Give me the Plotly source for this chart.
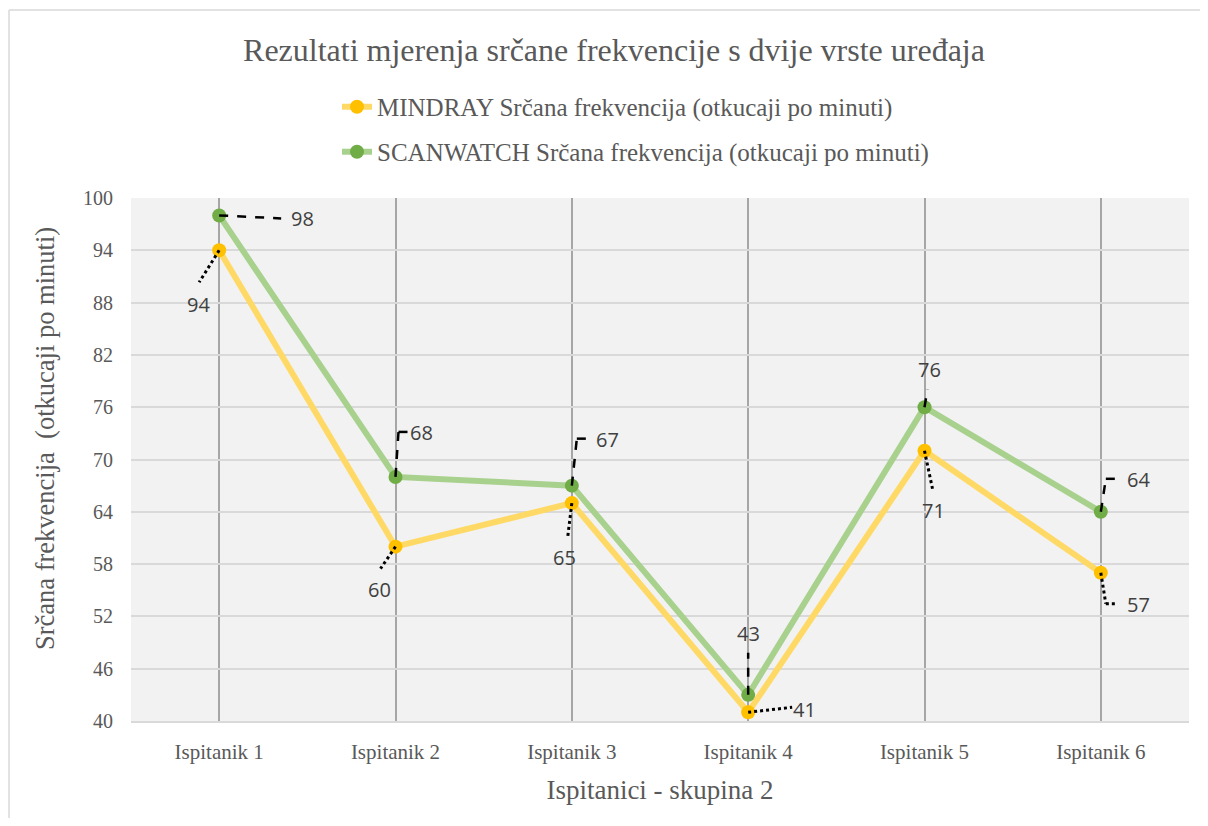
import plotly.graph_objects as go

categories = ["Ispitanik 1", "Ispitanik 2", "Ispitanik 3", "Ispitanik 4", "Ispitanik 5", "Ispitanik 6"]
mindray = [94, 60, 65, 41, 71, 57]
scanwatch = [98, 68, 67, 43, 76, 64]
y_ticks = [40, 46, 52, 58, 64, 70, 76, 82, 88, 94, 100]

name_m = "MINDRAY Srčana frekvencija (otkucaji po minuti)"
name_s = "SCANWATCH Srčana frekvencija (otkucaji po minuti)"

SERIF = "Liberation Serif"
SANS = "Open Sans"
GREY = "#595959"

fig = go.Figure()
fig.add_trace(go.Scatter(
    x=categories, y=mindray, name=name_m, mode="lines+markers",
    line=dict(color="#FFD966", width=6),
    marker=dict(color="#FFC000", size=14),
    legend="legend", showlegend=True,
))
fig.add_trace(go.Scatter(
    x=categories, y=scanwatch, name=name_s, mode="lines+markers",
    line=dict(color="#A9D18E", width=6),
    marker=dict(color="#70AD47", size=14),
    legend="legend2", showlegend=True,
))

# label offsets (pixels) and leader-line polylines (pixels, y up) per point
m_label_off = [(-21, -54), (-16, -43), (-7, -54), (56, 3), (9, -60), (38, -32)]
s_label_off = [(83, -3), (26, 44), (36, 46), (0, 61), (5, 38), (38, 32)]
m_leader = [
    [(0, 0), (-20, -32)],
    [(0, 0), (-15, -22)],
    [(0, 0), (-4, -33)],
    [(0, 0), (44, 5)],
    [(0, 0), (8, -38)],
    [(0, 0), (5, -31), (17, -31)],
]
s_leader = [
    [(0, 0), (62, -3)],
    [(0, 0), (3, 45), (15, 45)],
    [(0, 0), (5, 47), (17, 47)],
    [(0, 0), (0, 42)],
    [(0, 0), (3, 18)],
    [(0, 0), (5, 33), (17, 33)],
]

def add_labels(values, offsets, leaders, dash, width):
    for cat, v, (dx, dy), pts in zip(categories, values, offsets, leaders):
        for (x0, y0), (x1, y1) in zip(pts[:-1], pts[1:]):
            fig.add_shape(
                type="line", xref="x", yref="y",
                xsizemode="pixel", ysizemode="pixel",
                xanchor=cat, yanchor=v,
                x0=x0, y0=y0, x1=x1, y1=y1,
                line=dict(color="black", width=width, dash=dash),
            )
        fig.add_annotation(
            x=cat, y=v, text=str(v), showarrow=False,
            xshift=dx, yshift=dy,
            font=dict(family=SANS, size=20, color="#404040"),
        )

add_labels(scanwatch, s_label_off, s_leader, "dash", 2.5)
add_labels(mindray, m_label_off, m_leader, "dot", 3)

# y-axis title placed as annotation (offset from the axis centre like the original)
fig.add_annotation(
    text="Srčana frekvencija  (otkucaji po minuti)",
    xref="paper", yref="paper", x=-0.0813, y=0.541,
    xanchor="center", yanchor="middle", textangle=-90, showarrow=False,
    font=dict(family=SERIF, size=26.5, color=GREY),
)

# outer chart border (left and top edges only are visible)
fig.add_shape(type="line", xref="paper", yref="paper",
              x0=-0.1153, x1=-0.1153, y0=-0.5, y1=1.3595,
              line=dict(color="#d9d9d9", width=1.5), layer="below")
fig.add_shape(type="line", xref="paper", yref="paper",
              x0=-0.1153, x1=1.3, y0=1.3595, y1=1.3595,
              line=dict(color="#d9d9d9", width=1.5), layer="below")

fig.update_layout(
    width=1192, height=810,
    margin=dict(l=123, r=11, t=190, b=97),
    paper_bgcolor="white",
    plot_bgcolor="#F2F2F2",
    title=dict(
        text="Rezultati mjerenja srčane frekvencije s dvije vrste uređaja",
        x=0.5084, xanchor="center", y=0.9481, yanchor="middle",
        font=dict(family=SERIF, size=32, color=GREY),
    ),
    legend=dict(
        x=0.1947, y=1.174, xanchor="left", yanchor="middle",
        xref="paper", yref="paper",
        font=dict(family=SERIF, size=25, color=GREY),
        bgcolor="rgba(0,0,0,0)",
    ),
    legend2=dict(
        x=0.1947, y=1.088, xanchor="left", yanchor="middle",
        xref="paper", yref="paper",
        font=dict(family=SERIF, size=25, color=GREY),
        bgcolor="rgba(0,0,0,0)",
    ),
    xaxis=dict(
        type="category", range=[-0.5, 5.5],
        showgrid=True, gridcolor="#A6A6A6", gridwidth=1.5,
        showline=True, linecolor="#D9D9D9", linewidth=2,
        ticks="", tickfont=dict(family=SERIF, size=21, color=GREY),
        ticklabelstandoff=11,
        title=dict(text="Ispitanici - skupina 2", standoff=17,
                   font=dict(family=SERIF, size=27, color=GREY)),
    ),
    yaxis=dict(
        range=[40, 100], tickvals=y_ticks,
        showgrid=True, gridcolor="#D9D9D9", gridwidth=2,
        zeroline=False, showline=False, ticks="",
        tickfont=dict(family=SERIF, size=20, color=GREY),
        ticklabelstandoff=17,
    ),
)

fig.write_html("out.html")
